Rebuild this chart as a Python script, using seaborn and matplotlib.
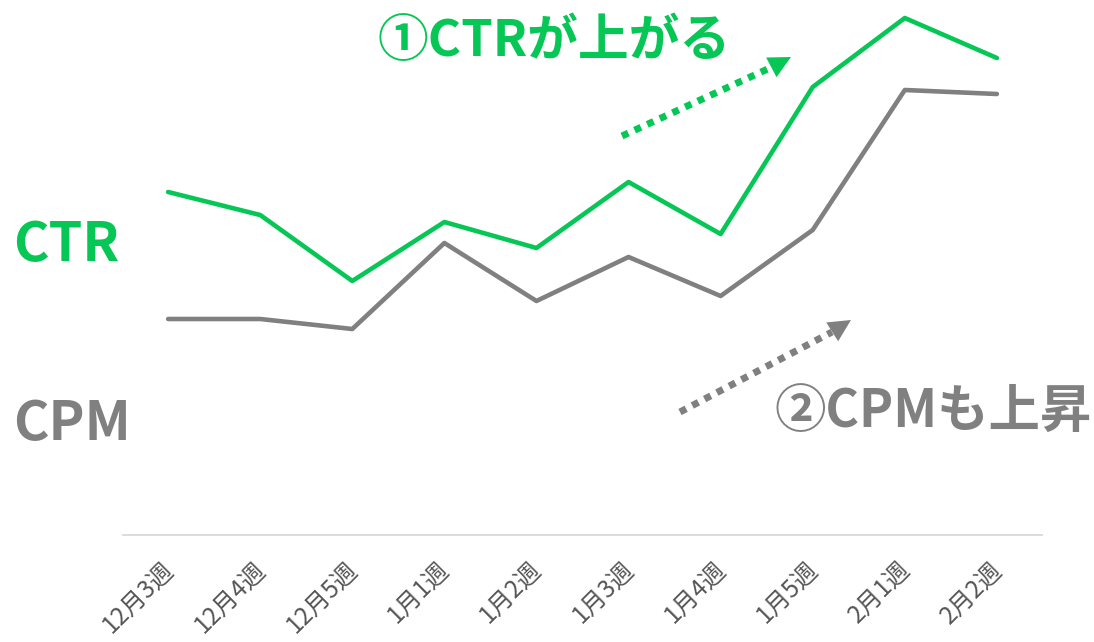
import matplotlib
matplotlib.use('Agg')
import matplotlib.pyplot as plt
import seaborn as sns
import pandas as pd
from matplotlib.transforms import ScaledTranslation

# ---- data ----
weeks = ['12月3週', '12月4週', '12月5週', '1月1週', '1月2週',
         '1月3週', '1月4週', '1月5週', '2月1週', '2月2週']
ctr = [343, 320, 254, 313, 287, 353, 301, 448, 517, 477]
cpm = [216, 216, 206, 292, 234, 278, 239, 305, 445, 441]

GREEN = '#06C755'
GRAY = '#808080'

sns.set_theme(style='white')
plt.rcParams['font.family'] = ['Noto Sans CJK JP', 'DejaVu Sans']

W, H = 1094, 642
fig = plt.figure(figsize=(W / 100, H / 100), dpi=100)
fig.patch.set_facecolor('white')
ax = fig.add_axes([123 / W, (H - 535) / H, (1042 - 123) / W, 535 / H])

df = pd.DataFrame({
    'week': weeks * 2,
    'value': ctr + cpm,
    'series': ['CTR'] * len(weeks) + ['CPM'] * len(weeks),
})
sns.lineplot(data=df, x='week', y='value', hue='series', sort=False,
             palette={'CTR': GREEN, 'CPM': GRAY}, linewidth=3.3,
             legend=False, ax=ax)

ax.set_xlim(-0.49, 9.49)
ax.set_ylim(0, 535)
ax.set_xlabel('')
ax.set_ylabel('')
ax.set_yticks([])
for s in ['left', 'right', 'top']:
    ax.spines[s].set_visible(False)
ax.spines['bottom'].set_color('#d9d9d9')
ax.spines['bottom'].set_linewidth(1.3)
ax.tick_params(axis='x', length=0, pad=16, labelsize=17.5, labelcolor='#555555')
off = ScaledTranslation(11 / 100, 0, fig.dpi_scale_trans)
for lbl in ax.get_xticklabels():
    lbl.set_rotation(45)
    lbl.set_ha('right')
    lbl.set_va('top')
    lbl.set_transform(lbl.get_transform() + off)


def fp(px, py):
    return (px / W, 1 - py / H)


# side labels
fig.text(*fp(13, 261), 'CTR', color=GREEN, fontsize=39, fontweight='bold', va='baseline', ha='left')
fig.text(*fp(13, 440), 'CPM', color=GRAY, fontsize=39, fontweight='bold', va='baseline', ha='left')

# annotation texts
fig.text(*fp(378, 56), '①CTRが上がる', color=GREEN, fontsize=36.5, fontweight='bold', va='baseline', ha='left')
fig.text(*fp(775, 428), '②CPMも上昇', color=GRAY, fontsize=37, fontweight='bold', va='baseline', ha='left')


def dotted_arrow(start, end, tip, color):
    x0, y0 = fp(*start)
    x1, y1 = fp(*end)
    fig.add_artist(plt.Line2D([x0, x1], [y0, y1], transform=fig.transFigure,
                              color=color, lw=5, linestyle=(0, (1, 1)),
                              dash_capstyle='butt'))
    ax.annotate('', xy=fp(*tip), xytext=fp(*end), xycoords='figure fraction',
                textcoords='figure fraction',
                arrowprops=dict(arrowstyle='-|>,head_length=1.0,head_width=0.5',
                                color=color, lw=0, mutation_scale=16,
                                shrinkA=0, shrinkB=0))


dotted_arrow((622, 136), (772, 67), (791, 57), GREEN)
dotted_arrow((680, 412), (832, 332), (851, 320), GRAY)

fig.savefig('out.png', dpi=100, facecolor='white')
